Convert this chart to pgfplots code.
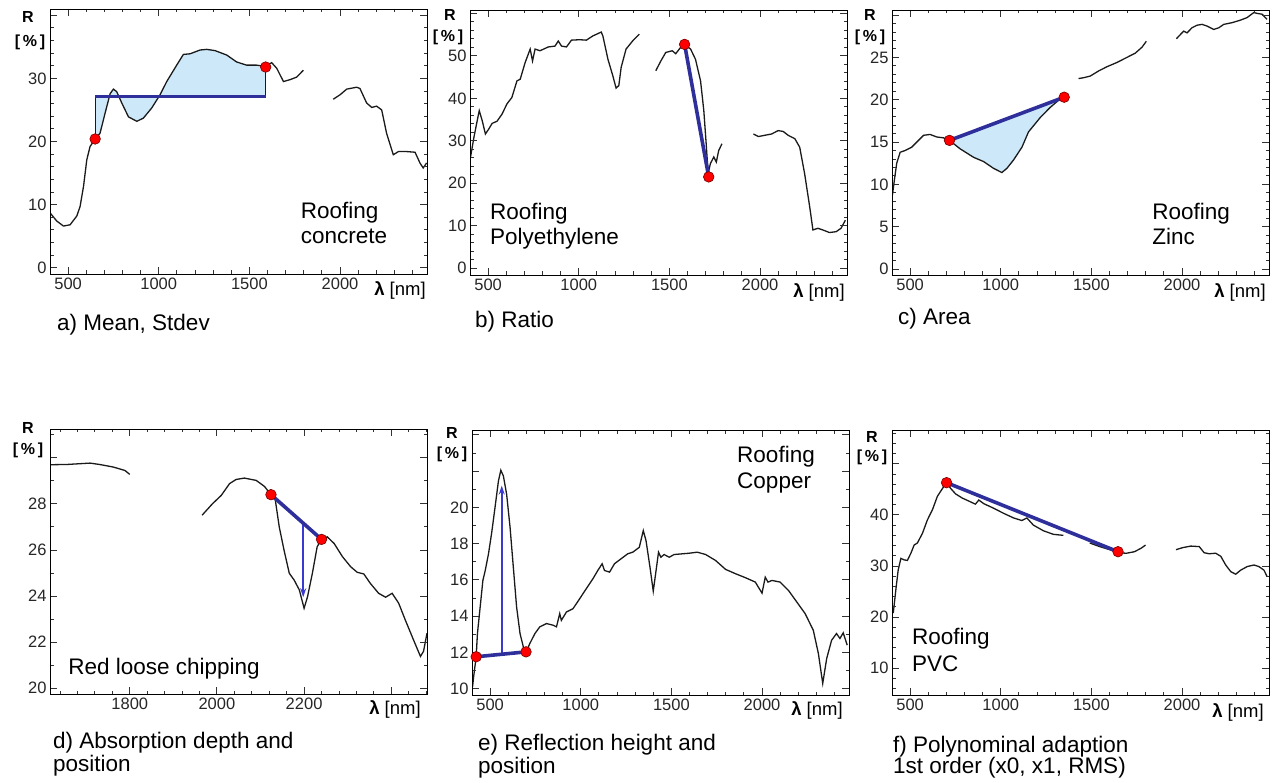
\documentclass[border=0pt]{standalone}
\usepackage{pgfplots}
\pgfplotsset{compat=1.18}
\usepackage{fontspec}
\setmainfont{Liberation Sans}
\usetikzlibrary{arrows.meta}
\definecolor{curvec}{HTML}{1A1A1A}
\definecolor{bluec}{HTML}{2F2F9C}
\definecolor{arrc}{HTML}{3A3AD0}
\definecolor{fillc}{HTML}{CDE9F9}
\definecolor{framec}{HTML}{333333}
\pgfplotsset{
 sp/.style={width=377pt,height=265pt,scale only axis,anchor=south west,axis on top,
  tick label style={font=\fontsize{16.5}{16.5}\selectfont, text=black!85},
  /pgf/number format/assume math mode=true, /pgf/number format/1000 sep={},
 },
 tk/.style={tick align=inside,major tick length=7pt,minor tick length=3.5pt,tick style={draw=framec,line width=0.9pt}},
 wx/.style={xmin=400,xmax=2480,xtick={0,500,...,2500},minor x tick num=4},
 cv/.style={draw=curvec,line width=1.3pt,no marks},
 bl/.style={draw=bluec,line width=3.6pt,no marks},
 th/.style={draw=curvec,line width=0.9pt,no marks},
 ar/.style={draw=arrc,line width=1.8pt,no marks,-{Stealth[length=9pt,width=6pt]}},
 rd/.style={only marks,mark=*,mark size=5.3pt,mark options={fill=red,draw=red!45!black,line width=0.6pt}},
}
\newcommand\lab[3]{\node[anchor=base west,inner sep=0pt,font=\fontsize{22.5}{22.5}\selectfont] at (#1pt,{782pt-#2pt}) {#3};}
\newcommand\Rlab[4]{\node[font=\fontsize{16}{16}\selectfont\bfseries] at (#1pt,{782pt-#2pt}) {R};
 \node[font=\fontsize{16}{16}\selectfont\bfseries] at (#3pt,{782pt-#4pt}) {[\,\%\,]};}
\newcommand\Llab[2]{\node[font=\fontsize{18.5}{18.5}\selectfont] at (#1pt,{782pt-#2pt}) {\textbf{λ} [nm]};}
\begin{document}
\begin{tikzpicture}
\useasboundingbox (0,0) rectangle (1279pt,782pt);
% ---------------- texts
\Rlab{28}{17}{30}{42}
\Rlab{450}{15}{448}{37}
\Rlab{870}{15}{870}{37}
\Rlab{28}{428}{28}{450}
\Rlab{452}{433}{452}{454}
\Rlab{872}{437}{872}{457}
\Llab{400}{290}
\Llab{819}{292}
\Llab{1240}{292}
\Llab{395}{709}
\Llab{817}{710}
\Llab{1238}{712}
\lab{57}{331}{a) Mean, Stdev}
\lab{475}{328}{b) Ratio}
\lab{898}{325}{c) Area}
\lab{53}{748}{d) Absorption depth and}\lab{53}{771}{position}
\lab{478}{750}{e) Reflection height and}\lab{478}{773}{position}
\lab{893}{752}{f) Polynominal adaption}\lab{893}{773}{1st order (x0, x1, RMS)}
% ---------------- a
\begin{axis}[sp,wx,at={(50pt,508pt)},tk,ymin=-1,ymax=41,ytick={0,10,...,40},minor y tick num=4,
 yticklabel={\ifdim\tick pt<35pt\pgfmathprintnumber{\tick}\fi}]
\addplot[fill=fillc,draw=none] coordinates {(649,27.1) (649,20.4) (676,21.3) (704,24.5) (732,27.6) (750,28.3) (768,27.9) (796,26.1) (833,23.9) (879,23.2) (915,23.7) (961,25.3) (1007,27.4) (1044,29.5) (1099,32.1) (1136,33.8) (1173,33.9) (1228,34.5) (1265,34.6) (1311,34.4) (1375,33.7) (1430,32.6) (1485,32.1) (1540,32.1) (1590,31.9) (1590,27.1)} --cycle;
\addplot[cv] coordinates {(400,8.7) (437,7.4) (474,6.6) (511,6.8) (548,8.2) (566,9.7) (585,12.9) (603,17.1) (621,19.2) (649,20.4) (676,21.3) (704,24.5) (732,27.6) (750,28.3) (768,27.9) (796,26.1) (833,23.9) (879,23.2) (915,23.7) (961,25.3) (1007,27.4) (1044,29.5) (1099,32.1) (1136,33.8) (1173,33.9) (1228,34.5) (1265,34.6) (1311,34.4) (1375,33.7) (1430,32.6) (1485,32.1) (1540,32.1) (1590,31.9) (1623,32.5) (1651,31.6) (1688,29.5) (1724,29.8) (1761,30.2) (1798,31.3)};
\addplot[cv] coordinates {(1963,26.7) (2000,27.4) (2037,28.3) (2092,28.6) (2110,28.4) (2147,26.1) (2175,25.4) (2202,25.6) (2230,25.0) (2257,21.3) (2294,17.9) (2322,18.4) (2368,18.4) (2414,18.3) (2441,16.6) (2459,15.8) (2478,16.6)};
\addplot[th] coordinates {(649,20.4) (649,27.1)};
\addplot[th] coordinates {(1590,27.1) (1590,31.8)};
\addplot[bl] coordinates {(649,27.1) (1590,27.1)};
\addplot[rd] coordinates {(649,20.4) (1590,31.8)};
\node[anchor=base west,inner sep=0pt,font=\fontsize{22.5}{22.5}\selectfont] at (rel axis cs:0.665,0.21) {Roofing};
\node[anchor=base west,inner sep=0pt,font=\fontsize{22.5}{22.5}\selectfont] at (rel axis cs:0.665,0.115) {concrete};
\end{axis}
% ---------------- b
\begin{axis}[sp,wx,at={(470pt,507pt)},tk,ymin=-1.6,ymax=60.8,ytick={0,10,...,60},minor y tick num=4,
 yticklabel={\ifdim\tick pt<55pt\pgfmathprintnumber{\tick}\fi}]
\addplot[cv] coordinates {(403,26.2) (422,30.9) (440,34.8) (451,37.1) (467,34.8) (485,31.6) (504,32.8) (522,34.1) (549,34.6) (577,36.3) (604,38.7) (631,40.2) (659,44.1) (677,44.5) (704,48.4) (732,51.6) (745,48.8) (759,51.6) (786,51.2) (832,52.1) (869,52.3) (887,53.5) (905,52.3) (932,52.1) (960,53.7) (1005,53.8) (1042,53.7) (1078,54.7) (1124,55.6) (1133,54.7) (1161,49.2) (1188,45.3) (1206,42.4) (1221,43.0) (1234,47.3) (1261,51.6) (1297,53.5) (1334,55.1)};
\addplot[cv] coordinates {(1425,46.5) (1453,48.8) (1480,50.8) (1516,51.2) (1535,50.5) (1562,52.0) (1584,52.7) (1617,51.6) (1644,49.2) (1672,44.1) (1690,37.1) (1703,29.3) (1714,22.3) (1726,24.6) (1745,26.2) (1759,25.0) (1772,27.7) (1790,29.3)};
\addplot[cv] coordinates {(1964,31.6) (1991,31.0) (2027,31.3) (2064,31.6) (2100,32.4) (2128,32.2) (2155,31.3) (2192,30.5) (2219,28.5) (2246,22.3) (2274,14.5) (2292,9.0) (2319,9.4) (2347,9.0) (2383,8.4) (2420,8.6) (2447,9.4) (2471,11.3)};
\addplot[bl] coordinates {(1584,52.7) (1717,21.5)};
\addplot[rd] coordinates {(1584,52.7) (1717,21.5)};
\node[anchor=base west,inner sep=0pt,font=\fontsize{22.5}{22.5}\selectfont] at (rel axis cs:0.053,0.21) {Roofing};
\node[anchor=base west,inner sep=0pt,font=\fontsize{22.5}{22.5}\selectfont] at (rel axis cs:0.053,0.115) {Polyethylene};
\end{axis}
% ---------------- c
\begin{axis}[sp,wx,at={(892pt,507pt)},tk,ymin=-0.7,ymax=30.6,ytick={0,5,...,30},minor y tick num=4,
 yticklabel={\ifdim\tick pt<27pt\pgfmathprintnumber{\tick}\fi}]
\addplot[fill=fillc,draw=none] coordinates {(717,15.2) (776,14.2) (850,13.2) (905,12.7) (960,11.9) (1006,11.4) (1034,11.9) (1071,12.9) (1117,14.4) (1153,16.2) (1218,17.9) (1273,19.1) (1328,20.1) (1350,20.3)} --cycle;
\addplot[cv] coordinates {(402,8.7) (413,10.5) (426,12.5) (445,13.8) (472,14.0) (509,14.4) (546,15.2) (574,15.8) (610,15.9) (647,15.6) (684,15.5) (717,15.2) (776,14.2) (850,13.2) (905,12.7) (960,11.9) (1006,11.4) (1034,11.9) (1071,12.9) (1117,14.4) (1153,16.2) (1218,17.9) (1273,19.1) (1328,20.1) (1350,20.3)};
\addplot[cv] coordinates {(1429,22.5) (1457,22.6) (1494,22.8) (1540,23.4) (1586,23.9) (1641,24.4) (1696,25.0) (1742,25.5) (1779,26.2) (1803,26.9)};
\addplot[cv] coordinates {(1969,27.2) (1991,27.7) (2009,28.1) (2028,27.9) (2055,28.5) (2083,28.8) (2111,28.9) (2138,28.7) (2175,28.3) (2203,28.5) (2230,28.9) (2276,29.1) (2322,29.4) (2359,29.7) (2396,30.3) (2414,30.2) (2442,30.1) (2469,29.5)};
\addplot[bl] coordinates {(717,15.2) (1350,20.3)};
\addplot[rd] coordinates {(717,15.2) (1350,20.3)};
\node[anchor=base west,inner sep=0pt,font=\fontsize{22.5}{22.5}\selectfont] at (rel axis cs:0.69,0.21) {Roofing};
\node[anchor=base west,inner sep=0pt,font=\fontsize{22.5}{22.5}\selectfont] at (rel axis cs:0.69,0.115) {Zinc};
\end{axis}
% ---------------- d
\begin{axis}[sp,at={(50pt,88pt)},tk,xmin=1617,xmax=2482,xtick={1600,1800,...,2600},minor x tick num=4,
 xticklabel={\ifdim\tick pt<2300pt\pgfmathprintnumber{\tick}\fi},
 ymin=19.75,ymax=31.25,ytick={18,20,...,32},minor y tick num=1,
 yticklabel={\ifdim\tick pt<29pt\pgfmathprintnumber{\tick}\fi}]
\addplot[cv] coordinates {(1617,29.70) (1655,29.71) (1709,29.77) (1731,29.71) (1762,29.60) (1789,29.45) (1800,29.28)};
\addplot[cv] coordinates {(1966,27.51) (1990,28.01) (2010,28.37) (2029,28.88) (2044,29.06) (2063,29.12) (2090,29.02) (2109,28.76) (2124,28.40) (2134,28.16) (2143,27.00) (2154,25.99) (2166,24.99) (2177,24.70) (2189,24.27) (2200,23.47) (2208,23.98) (2219,24.99) (2230,26.14) (2240,26.46) (2253,26.57) (2269,26.28) (2288,25.71) (2307,25.27) (2322,25.03) (2337,24.96) (2352,24.55) (2371,24.12) (2387,23.95) (2402,24.12) (2417,23.69) (2432,22.97) (2451,22.10) (2467,21.38) (2474,21.60) (2482,22.39)};
\addplot[ar] coordinates {(2198,27.15) (2198,23.95)};
\addplot[bl] coordinates {(2124,28.40) (2240,26.46)};
\addplot[rd] coordinates {(2124,28.40) (2240,26.46)};
\node[anchor=base west,inner sep=0pt,font=\fontsize{22.5}{22.5}\selectfont] at (rel axis cs:0.048,0.075) {Red loose chipping};
\end{axis}
% ---------------- e
\begin{axis}[sp,wx,at={(472pt,87pt)},tk,ymin=9.65,ymax=24.27,ytick={8,10,...,26},minor y tick num=1,
 yticklabel={\ifdim\tick pt<21pt\pgfmathprintnumber{\tick}\fi}]
\addplot[cv] coordinates {(403,10.1) (409,10.66) (423,11.76) (430,13.04) (445,14.5) (460,15.97) (473,16.52) (491,17.44) (509,18.63) (527,20.0) (546,21.47) (559,22.05) (573,21.74) (591,20.73) (610,18.90) (628,16.70) (646,14.51) (665,13.04) (683,12.31) (698,12.03) (719,12.49) (747,13.04) (774,13.41) (811,13.59) (848,13.50) (866,13.41) (884,14.14) (893,13.77) (921,14.23) (957,14.41) (994,14.96) (1030,15.51) (1067,16.06) (1094,16.52) (1118,16.89) (1131,16.52) (1159,16.43) (1186,16.89) (1222,17.16) (1259,17.44) (1287,17.53) (1323,17.80) (1345,18.72) (1360,18.17) (1382,16.70) (1400,15.38) (1418,16.70) (1429,17.53) (1442,17.25) (1460,17.40) (1488,17.25) (1515,17.40) (1561,17.44) (1597,17.47) (1643,17.53) (1689,17.40) (1744,17.07) (1799,16.58) (1854,16.34) (1909,16.12) (1963,15.88) (2000,15.27) (2018,16.15) (2033,15.88) (2055,15.97) (2100,15.88) (2146,15.42) (2192,14.78) (2238,14.14) (2283,13.22) (2311,11.94) (2335,10.29) (2357,11.67) (2384,12.67) (2411,13.04) (2430,12.77) (2448,13.08) (2470,12.40)};
\addplot[ar] coordinates {(564,11.9) (564,21.2)};
\addplot[bl] coordinates {(423,11.76) (698,12.03)};
\addplot[rd] coordinates {(423,11.76) (698,12.03)};
\node[anchor=base west,inner sep=0pt,font=\fontsize{22.5}{22.5}\selectfont] at (rel axis cs:0.703,0.876) {Roofing};
\node[anchor=base west,inner sep=0pt,font=\fontsize{22.5}{22.5}\selectfont] at (rel axis cs:0.703,0.781) {Copper};
\end{axis}
% ---------------- f
\begin{axis}[sp,wx,at={(892pt,87pt)},tk,ymin=4.78,ymax=56.6,ytick={0,10,...,60},minor y tick num=4,
 yticklabel={\ifdim\tick pt<45pt\ifdim\tick pt>5pt\pgfmathprintnumber{\tick}\fi\fi}]
\addplot[cv] coordinates {(407,20.8) (421,25.3) (434,29.2) (449,31.5) (467,31.2) (485,31.1) (504,32.5) (522,34.1) (540,34.5) (568,36.4) (595,39.0) (623,41.0) (650,43.6) (668,44.6) (687,45.6) (701,46.3) (723,45.2) (751,44.1) (787,43.3) (824,42.7) (860,42.1) (879,42.9) (906,42.2) (961,41.3) (1016,40.3) (1071,39.4) (1116,38.9) (1144,39.4) (1180,38.0) (1235,36.9) (1290,36.2) (1345,36.0)};
\addplot[cv] coordinates {(1491,34.5) (1546,33.8) (1601,33.2) (1647,32.6) (1693,32.5) (1738,32.8) (1775,33.5) (1799,34.1)};
\addplot[cv] coordinates {(1967,33.2) (2004,33.6) (2049,33.9) (2095,33.8) (2122,32.6) (2150,32.4) (2186,32.5) (2214,31.9) (2241,30.2) (2269,28.9) (2296,28.4) (2324,29.2) (2360,29.9) (2397,30.2) (2424,29.9) (2452,29.2) (2470,27.9)};
\addplot[bl] coordinates {(701,46.3) (1647,32.8)};
\addplot[rd] coordinates {(701,46.3) (1647,32.8)};
\node[anchor=base west,inner sep=0pt,font=\fontsize{22.5}{22.5}\selectfont] at (rel axis cs:0.053,0.189) {Roofing};
\node[anchor=base west,inner sep=0pt,font=\fontsize{22.5}{22.5}\selectfont] at (rel axis cs:0.053,0.087) {PVC};
\end{axis}
\end{tikzpicture}
\end{document}
